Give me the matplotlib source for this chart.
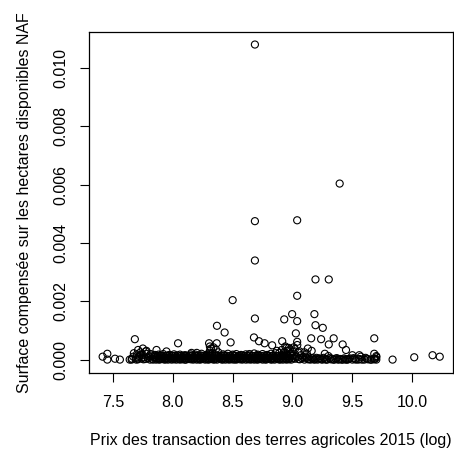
import matplotlib
matplotlib.use("Agg")
import matplotlib.pyplot as plt

plt.rcParams['font.family'] = ['Liberation Sans', 'DejaVu Sans']

# --- outliers / visible isolated points ---
outlier_x = [8.686, 9.394, 8.686, 9.039, 8.686, 9.192, 9.303, 8.500, 9.039, 8.686,
             8.931, 8.997, 9.039, 9.183, 9.192, 9.253, 8.369, 8.433, 9.028, 8.678,
             8.720, 8.767, 7.683, 8.044, 8.303, 8.367, 8.483, 8.830, 8.914, 9.039,
             9.156, 9.239, 9.344, 9.303, 9.419, 9.447, 9.683, 9.683, 9.683, 9.836,
             10.017, 10.170, 10.230, 9.558, 9.500, 9.128, 9.040, 8.950, 7.414, 7.453,
             7.453, 7.517, 7.558, 7.656, 7.710, 7.750, 7.780, 7.864, 7.947, 8.156,
             8.200, 8.310, 8.870, 8.980, 9.010, 9.060, 9.100, 9.160, 9.270]
outlier_y = [0.01081, 0.00604, 0.00475, 0.00478, 0.00340, 0.00275, 0.00275, 0.00204, 0.00219, 0.00141,
             0.00138, 0.00156, 0.00132, 0.00156, 0.00118, 0.00109, 0.00116, 0.00093, 0.00090, 0.00076,
             0.00063, 0.00056, 0.00070, 0.00056, 0.00056, 0.00056, 0.00059, 0.00049, 0.00063, 0.00061,
             0.00073, 0.00070, 0.00073, 0.00052, 0.00052, 0.00033, 0.00073, 0.00020, 0.00003, 0.00000,
             0.00008, 0.00015, 0.00010, 0.00015, 0.00015, 0.00038, 0.00050, 0.00040, 0.00010, 0.00020,
             0.00000, 0.00003, 0.00000, 0.00000, 0.00033, 0.00038, 0.00030, 0.00033, 0.00028, 0.00023,
             0.00023, 0.00045, 0.00030, 0.00035, 0.00042, 0.00028, 0.00025, 0.00030, 0.00020]

# --- loose cluster at the left (7.6 - 7.85) ---
left_x = [7.64, 7.66, 7.67, 7.69, 7.70, 7.71, 7.72, 7.73, 7.74, 7.75,
          7.76, 7.77, 7.78, 7.79, 7.80, 7.81, 7.82, 7.83, 7.84, 7.85,
          7.675, 7.695, 7.715, 7.735, 7.755, 7.775, 7.795, 7.815, 7.835, 7.855]
left_y = [0.00000, 0.00003, 0.00010, 0.00005, 0.00018, 0.00001, 0.00012, 0.00025, 0.00004, 0.00015,
          0.00008, 0.00002, 0.00020, 0.00006, 0.00011, 0.00000, 0.00014, 0.00003, 0.00009, 0.00016,
          0.00022, 0.00000, 0.00007, 0.00017, 0.00001, 0.00028, 0.00004, 0.00019, 0.00000, 0.00010]

# --- dense band near zero (7.86 - 9.0) ---
bandA_x = [7.86, 7.88, 7.89, 7.91, 7.93, 7.94, 7.96, 7.98, 7.99, 8.01, 8.03, 8.05, 8.06, 8.08,
           8.10, 8.11, 8.13, 8.15, 8.17, 8.18, 8.20, 8.22, 8.23, 8.25, 8.27, 8.29, 8.30, 8.32,
           8.34, 8.35, 8.37, 8.39, 8.41, 8.42, 8.44, 8.46, 8.47, 8.49, 8.51, 8.53, 8.54, 8.56,
           8.58, 8.59, 8.61, 8.63, 8.65, 8.66, 8.68, 8.70, 8.71, 8.73, 8.75, 8.77, 8.78, 8.80,
           8.82, 8.83, 8.85, 8.87, 8.89, 8.90, 8.92, 8.94, 8.95, 8.97, 8.99]
bandA_y = [0.00000, 0.00001, 0.00000, 0.00002, 0.00000, 0.00001, 0.00000, 0.00003, 0.00000, 0.00001,
           0.00000, 0.00002, 0.00000, 0.00001, 0.00000, 0.00000, 0.00002, 0.00001, 0.00000, 0.00003,
           0.00000, 0.00001, 0.00000, 0.00002, 0.00000, 0.00001, 0.00000, 0.00002, 0.00000, 0.00001,
           0.00000, 0.00003, 0.00000, 0.00001, 0.00000, 0.00002, 0.00000, 0.00001, 0.00000, 0.00000,
           0.00002, 0.00001, 0.00000, 0.00003, 0.00000, 0.00001, 0.00000, 0.00002, 0.00000, 0.00001,
           0.00000, 0.00002, 0.00000, 0.00001, 0.00000, 0.00003, 0.00000, 0.00001, 0.00000, 0.00002,
           0.00000, 0.00001, 0.00000, 0.00002, 0.00000, 0.00001, 0.00000]
bandB_x = [7.865, 7.884, 7.897, 7.915, 7.934, 7.947, 7.966, 7.984, 7.997, 8.016, 8.035, 8.054,
           8.067, 8.085, 8.104, 8.117, 8.136, 8.155, 8.174, 8.186, 8.205, 8.224, 8.237, 8.256,
           8.275, 8.294, 8.306, 8.325, 8.344, 8.357, 8.376, 8.395, 8.414, 8.427, 8.446, 8.465,
           8.478, 8.497, 8.516, 8.535, 8.547, 8.566, 8.585, 8.598, 8.617, 8.636, 8.655, 8.667,
           8.686, 8.705, 8.718, 8.737, 8.756, 8.775, 8.787, 8.806, 8.825, 8.838, 8.857, 8.876,
           8.895, 8.907, 8.926, 8.945, 8.958, 8.977, 8.996]
bandB_y = [0.00005, 0.00006, 0.00004, 0.00005, 0.00006, 0.00005, 0.00004, 0.00006, 0.00005, 0.00005,
           0.00006, 0.00004, 0.00005, 0.00006, 0.00005, 0.00004, 0.00006, 0.00005, 0.00005, 0.00006,
           0.00004, 0.00005, 0.00006, 0.00005, 0.00004, 0.00006, 0.00005, 0.00005, 0.00006, 0.00004,
           0.00005, 0.00006, 0.00005, 0.00004, 0.00006, 0.00005, 0.00005, 0.00006, 0.00004, 0.00005,
           0.00006, 0.00005, 0.00004, 0.00006, 0.00005, 0.00005, 0.00006, 0.00004, 0.00005, 0.00006,
           0.00005, 0.00004, 0.00006, 0.00005, 0.00005, 0.00006, 0.00004, 0.00005, 0.00006, 0.00005,
           0.00004, 0.00006, 0.00005, 0.00005, 0.00006, 0.00004, 0.00005]
bandC_x = [7.871, 7.892, 7.903, 7.922, 7.941, 7.953, 7.972, 7.991, 8.003, 8.022, 8.041, 8.062,
           8.073, 8.092, 8.111, 8.123, 8.142, 8.161, 8.182, 8.193, 8.212, 8.231, 8.243, 8.262,
           8.281, 8.302, 8.313, 8.332, 8.351, 8.363, 8.382, 8.401, 8.422, 8.433, 8.452, 8.471,
           8.483, 8.502, 8.521, 8.542, 8.553, 8.572, 8.591, 8.603, 8.622, 8.641, 8.662, 8.673,
           8.692, 8.711, 8.723, 8.742, 8.761, 8.782, 8.793, 8.812, 8.831, 8.843, 8.862, 8.881,
           8.902, 8.913, 8.932, 8.951, 8.963, 8.982, 9.001]
bandC_y = [0.00013, 0.00012, 0.00014, 0.00013, 0.00012, 0.00013, 0.00014, 0.00013, 0.00012, 0.00013,
           0.00014, 0.00012, 0.00013, 0.00013, 0.00014, 0.00012, 0.00013, 0.00014, 0.00013, 0.00012,
           0.00013, 0.00014, 0.00013, 0.00012, 0.00013, 0.00014, 0.00013, 0.00012, 0.00013, 0.00014,
           0.00013, 0.00012, 0.00013, 0.00014, 0.00013, 0.00012, 0.00013, 0.00014, 0.00013, 0.00012,
           0.00013, 0.00014, 0.00013, 0.00012, 0.00013, 0.00014, 0.00013, 0.00012, 0.00013, 0.00014,
           0.00013, 0.00012, 0.00013, 0.00014, 0.00013, 0.00012, 0.00013, 0.00014, 0.00013, 0.00012,
           0.00013, 0.00014, 0.00013, 0.00012, 0.00013, 0.00014, 0.00013]

# --- bumps above the band ---
bump_x = [7.88, 7.92, 7.97, 8.01, 8.06, 8.10, 8.15, 8.19, 8.24, 8.28, 8.31, 8.33, 8.35, 8.38,
          8.42, 8.46, 8.50, 8.53, 8.57, 8.61, 8.64, 8.68, 8.71, 8.75, 8.79, 8.82, 8.86, 8.89,
          8.93, 8.96, 8.99, 8.32, 8.34, 8.36, 8.30, 8.91, 8.94, 8.97, 9.00, 9.02, 9.05, 8.98, 8.92]
bump_y = [0.00017, 0.00019, 0.00016, 0.00018, 0.00017, 0.00015, 0.00018, 0.00017, 0.00020, 0.00016,
          0.00030, 0.00022, 0.00019, 0.00025, 0.00018, 0.00020, 0.00017, 0.00019, 0.00016, 0.00018,
          0.00019, 0.00021, 0.00017, 0.00019, 0.00016, 0.00020, 0.00022, 0.00023, 0.00025, 0.00030,
          0.00021, 0.00038, 0.00042, 0.00035, 0.00021, 0.00033, 0.00045, 0.00040, 0.00028, 0.00036,
          0.00024, 0.00019, 0.00017]

# --- band right of 9.0 (9.0 - 9.7) ---
right_x = [9.02, 9.04, 9.06, 9.08, 9.10, 9.12, 9.14, 9.15, 9.17, 9.19, 9.21, 9.23, 9.25, 9.27,
           9.29, 9.31, 9.32, 9.34, 9.36, 9.38, 9.40, 9.42, 9.44, 9.46, 9.48, 9.50, 9.52, 9.55,
           9.57, 9.60, 9.62, 9.65, 9.68, 9.70, 9.70, 9.03, 9.07, 9.11, 9.20, 9.30,
           9.01, 9.05, 9.09, 9.13, 9.16, 9.18, 9.22, 9.24, 9.26, 9.28, 9.33, 9.35, 9.37, 9.39,
           9.41, 9.43, 9.45, 9.47, 9.51, 9.53, 9.56, 9.58, 9.61, 9.63, 9.66, 9.69, 9.70, 9.12]
right_y = [0.00003, 0.00008, 0.00001, 0.00004, 0.00000, 0.00006, 0.00002, 0.00000, 0.00004, 0.00001,
           0.00000, 0.00003, 0.00000, 0.00002, 0.00000, 0.00005, 0.00001, 0.00000, 0.00003, 0.00000,
           0.00002, 0.00000, 0.00001, 0.00000, 0.00004, 0.00000, 0.00002, 0.00000, 0.00010, 0.00000,
           0.00003, 0.00000, 0.00001, 0.00000, 0.00008, 0.00012, 0.00015, 0.00010, 0.00006, 0.00012,
           0.00006, 0.00002, 0.00009, 0.00001, 0.00005, 0.00000, 0.00004, 0.00001, 0.00006, 0.00000,
           0.00003, 0.00000, 0.00005, 0.00001, 0.00000, 0.00004, 0.00000, 0.00002, 0.00005, 0.00000,
           0.00002, 0.00000, 0.00006, 0.00001, 0.00000, 0.00003, 0.00012, 0.00020]

xs = outlier_x + left_x + bandA_x + bandB_x + bandC_x + bump_x + right_x
ys = outlier_y + left_y + bandA_y + bandB_y + bandC_y + bump_y + right_y

W, H = 454, 455
fig = plt.figure(figsize=(W / 100, H / 100), dpi=100)
ax = fig.add_axes([89 / W, (H - 373) / H, (453.5 - 89) / W, (373 - 32) / H])

ax.scatter(xs, ys, s=26, facecolors='none', edgecolors='black', linewidths=0.8)

ax.set_xlim(7.3, 10.345)
ax.set_ylim(-0.00046, 0.01124)
ax.set_xticks([7.5, 8.0, 8.5, 9.0, 9.5, 10.0])
ax.set_xticklabels(['7.5', '8.0', '8.5', '9.0', '9.5', '10.0'])
ax.set_yticks([0.0, 0.002, 0.004, 0.006, 0.008, 0.010])
ax.set_yticklabels(['0.000', '0.002', '0.004', '0.006', '0.008', '0.010'],
                   rotation=90, va='center')

for sp in ax.spines.values():
    sp.set_linewidth(0.9)
    sp.set_color('black')

ax.tick_params(direction='out', length=6.5, width=0.8, labelsize=11.5, colors='black')
ax.tick_params(axis='x', pad=9)
ax.tick_params(axis='y', pad=8)

ax.set_xlabel('Prix des transaction des terres agricoles 2015 (log)', fontsize=11.5, labelpad=17)
ax.set_ylabel('Surface compensée sur les hectares disponibles NAF', fontsize=11.5, labelpad=16)

fig.savefig('out.png', dpi=100)
